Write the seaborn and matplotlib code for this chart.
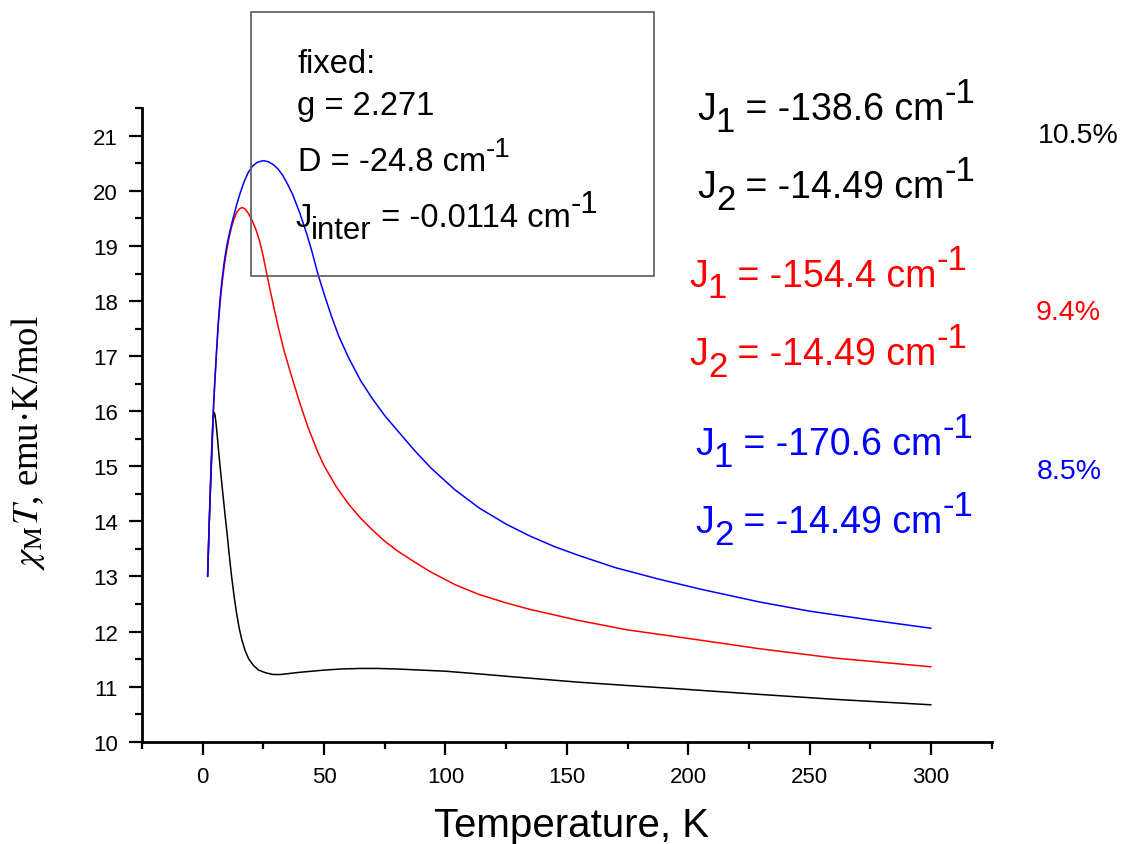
import numpy as np
import pandas as pd
import matplotlib
matplotlib.use("Agg")
import matplotlib.pyplot as plt
from matplotlib.patches import Rectangle
from matplotlib.ticker import MultipleLocator
import seaborn as sns

# ---- data: chi_M*T (emu K/mol) versus temperature (K) for three parameter sets ----
T_black = [2, 2.5, 3, 3.5, 4, 4.3, 4.6, 5.0, 5.4, 5.9, 6.5, 7.2, 7.8, 8.5, 9.2, 10, 10.8,
           11.9, 13, 14, 15, 16, 17.5, 19, 21, 23, 26, 29, 32, 36, 40, 45, 50, 57, 65,
           72, 80, 90, 100, 114, 130, 155, 175, 196, 229, 260, 300]
chi_black = [13.0, 13.7, 14.35, 14.9, 15.5, 15.85, 15.98, 15.95, 15.82, 15.6, 15.3, 14.98,
             14.72, 14.42, 14.12, 13.8, 13.45, 13.0, 12.62, 12.32, 12.07, 11.87, 11.65,
             11.5, 11.38, 11.3, 11.25, 11.22, 11.22, 11.24, 11.26, 11.28, 11.3, 11.32,
             11.33, 11.33, 11.32, 11.3, 11.28, 11.23, 11.17, 11.08, 11.02, 10.96, 10.86,
             10.77, 10.67]

T_red = [2.05, 2.5, 3, 3.5, 4, 4.5, 5, 5.7, 6.4, 7.2, 8, 9, 10, 11, 12, 13, 14, 15, 16.3,
         17.5, 19, 20.5, 22, 23.5, 24.9, 26.6, 28.5, 31, 33.5, 36.5, 40, 43.3, 47, 50, 55,
         60, 65, 70, 75, 80, 87, 94, 104, 114, 125, 135, 155, 175, 196, 215, 229, 260, 300]
chi_red = [13.0, 13.7, 14.4, 15.05, 15.6, 16.1, 16.53, 17.05, 17.55, 17.98, 18.33, 18.68,
           18.95, 19.18, 19.36, 19.5, 19.61, 19.67, 19.7, 19.67, 19.58, 19.45, 19.29, 19.08,
           18.82, 18.45, 18.05, 17.55, 17.1, 16.65, 16.15, 15.72, 15.3, 15.01, 14.63, 14.32,
           14.06, 13.84, 13.64, 13.47, 13.27, 13.08, 12.85, 12.67, 12.52, 12.4, 12.2, 12.03,
           11.9, 11.78, 11.69, 11.52, 11.36]

T_blue = [2.05, 2.5, 3, 3.5, 4, 4.5, 5, 5.7, 6.4, 7.2, 8, 9, 10, 11.2, 12.5, 14, 15.5, 17,
          18.7, 20.5, 22.5, 24.9, 27, 29, 31, 33, 35, 37, 40, 43, 45, 47.4, 50, 53, 56, 60,
          65, 70, 75, 80, 87, 94, 104, 114, 125, 135, 145, 155, 170, 188, 205, 229, 250,
          275, 300]
chi_blue = [13.0, 13.7, 14.4, 15.05, 15.62, 16.12, 16.55, 17.1, 17.6, 18.05, 18.4, 18.75,
            19.02, 19.27, 19.5, 19.75, 19.97, 20.16, 20.33, 20.45, 20.52, 20.55, 20.53,
            20.48, 20.4, 20.28, 20.12, 19.94, 19.6, 19.2, 18.9, 18.5, 18.13, 17.73, 17.37,
            16.98, 16.56, 16.22, 15.92, 15.66, 15.3, 14.97, 14.57, 14.24, 13.95, 13.73,
            13.54, 13.38, 13.16, 12.95, 12.77, 12.54, 12.37, 12.21, 12.06]

series_names = ["black", "red", "blue"]
series_colors = {"black": "#000000", "red": "#ff0000", "blue": "#0000ff"}

x_ticks = [0, 50, 100, 150, 200, 250, 300]
y_ticks = [10, 11, 12, 13, 14, 15, 16, 17, 18, 19, 20, 21]

fixed_lines = ["fixed:", "g = 2.271", "D = -24.8 cm", "-1", " = -0.0114 cm"]
J1_values = ["-138.6", "-154.4", "-170.6"]
J2_values = ["-14.49", "-14.49", "-14.49"]
residuals = ["10.5%", "9.4%", "8.5%"]

# ---- style ----
sns.set_style("ticks")
plt.rcParams["font.family"] = ["Liberation Sans", "DejaVu Sans"]
plt.rcParams["mathtext.fontset"] = "stix"
for key in ("text.color", "axes.labelcolor", "xtick.color", "ytick.color",
            "axes.edgecolor"):
    plt.rcParams[key] = "black"

W, H = 1123, 845
fig = plt.figure(figsize=(W / 100, H / 100), dpi=100)
ax = fig.add_axes([142 / W, 1 - 742.7 / H, (991.7 - 142) / W, (742.7 - 109.3) / H])

frames = []
for name, t, c in [("black", T_black, chi_black), ("red", T_red, chi_red),
                   ("blue", T_blue, chi_blue)]:
    frames.append(pd.DataFrame({"T": t, "chi": c, "series": name}))
df = pd.concat(frames, ignore_index=True)

sns.lineplot(data=df, x="T", y="chi", hue="series", hue_order=series_names,
             palette=series_colors, estimator=None, sort=False, legend=False,
             linewidth=1.1, ax=ax)

ax.set_xlim(-25, 325)
ax.set_ylim(10, 21.5)
ax.set_xticks(x_ticks)
ax.set_yticks(y_ticks)
ax.xaxis.set_minor_locator(MultipleLocator(25))
ax.yaxis.set_minor_locator(MultipleLocator(0.5))
ax.set_xticklabels([str(v) for v in x_ticks])
ax.set_yticklabels([str(v) for v in y_ticks])

sns.despine(ax=ax)
for side in ("left", "bottom"):
    ax.spines[side].set_linewidth(2.0)
    ax.spines[side].set_color("black")
ax.tick_params(which="major", direction="out", length=9.5, width=1.6,
               labelsize=16, pad=8, colors="black")
ax.tick_params(which="minor", direction="out", length=5, width=1.6, colors="black")

ax.set_xlabel("Temperature, K", fontsize=29, color="black")
ax.xaxis.set_label_coords(0.506, -0.1015)
ax.set_ylabel(r"$\chi_{\rm M}T$, emu·K/mol", fontsize=26.5, color="black",
              family=["Liberation Serif", "DejaVu Serif"])
ax.yaxis.set_label_coords(-0.112, 0.474)


def rich_text(x_px, base_px, pieces, size, color, small=0.85, drop=0.33, rise=0.42):
    """Draw a line of text made of normal, subscript and superscript runs."""
    yf = 1 - base_px / H
    prev = None
    for text, kind in pieces:
        scale = 1.0 if kind == "n" else small
        dy = 0.0 if kind == "n" else (-drop if kind == "sub" else rise) * size
        if prev is None:
            prev = fig.text(x_px / W, yf, text, fontsize=size * scale, color=color,
                            ha="left", va="baseline")
        else:
            prev = ax.annotate(text, xy=(1, yf), xycoords=(prev, "figure fraction"),
                               xytext=(0, dy), textcoords="offset points",
                               fontsize=size * scale, color=color, ha="left",
                               va="baseline", annotation_clip=False)
    return prev


# box with the fixed parameters
fig.add_artist(Rectangle((251 / W, 1 - 277 / H), (654 - 251) / W, (277 - 13) / H,
                         transform=fig.transFigure, facecolor="none",
                         edgecolor="#5a5a5a", linewidth=1.2))
rich_text(297, 73.3, [(fixed_lines[0], "n")], 23.5, "black")
rich_text(297, 115, [(fixed_lines[1], "n")], 23.5, "black")
rich_text(298, 170.7, [(fixed_lines[2], "n"), (fixed_lines[3], "sup")], 23.5, "black",
          small=0.85, rise=0.42)
rich_text(295, 227.3, [("J", "n"), ("inter", "sub"), (fixed_lines[4], "n"), ("-1", "sup")],
          23.5, "black", small=0.95, drop=0.36, rise=0.45)

# exchange constants for each curve
j_pos = [(697, 120, 198.3), (689, 286.7, 365), (695, 455, 533.3)]
pct_pos = [(1038, 143.3), (1036, 320), (1037, 479.3)]
for name, j1, j2, (xp, b1, b2), pct, (px, pb) in zip(series_names, J1_values, J2_values,
                                                     j_pos, residuals, pct_pos):
    col = series_colors[name]
    rich_text(xp, b1, [("J", "n"), ("1", "sub"), (f" = {j1} cm", "n"), ("-1", "sup")],
              27, col, small=0.93, drop=0.31, rise=0.45)
    rich_text(xp, b2, [("J", "n"), ("2", "sub"), (f" = {j2} cm", "n"), ("-1", "sup")],
              27, col, small=0.93, drop=0.31, rise=0.45)
    fig.text(px / W, 1 - pb / H, pct, fontsize=20.5, color=col, ha="left", va="baseline")

fig.savefig("out.png", dpi=100, facecolor="white")
